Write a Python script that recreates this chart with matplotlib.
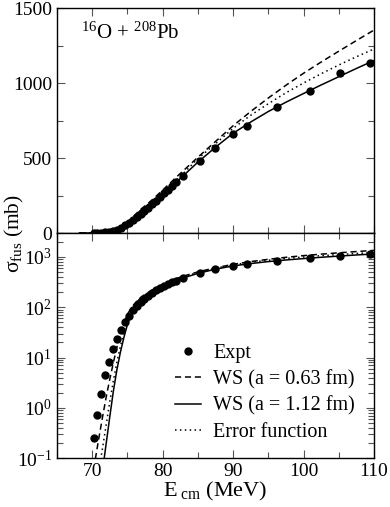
import numpy as np
import matplotlib
matplotlib.use("Agg")
import matplotlib.pyplot as plt
from matplotlib.ticker import MultipleLocator, LogLocator, NullFormatter

plt.rcParams['font.family'] = ['Liberation Serif', 'DejaVu Serif']
plt.rcParams['mathtext.fontset'] = 'custom'
plt.rcParams['mathtext.rm'] = 'Liberation Serif'
plt.rcParams['mathtext.it'] = 'Liberation Serif:italic'
plt.rcParams['mathtext.bf'] = 'Liberation Serif:bold'

# --- experimental fusion cross sections (mb) ---
e_expt = [70.19, 70.75, 71.27, 71.84, 72.40, 72.97, 73.54, 74.10, 74.62, 75.19,
          75.75, 76.30, 76.86, 77.42, 77.98, 78.54, 79.10, 79.66, 80.22, 80.78,
          81.34, 81.90, 82.92, 85.28, 87.45, 89.95, 91.93, 96.27, 100.85, 105.2,
          109.5]
sig_expt = [0.25, 0.71, 1.86, 4.4, 8.3, 14.7, 23.3, 35.6, 50.6, 67.6,
            87.6, 105, 125, 147, 170, 193, 216, 240, 264, 288,
            313, 338, 382, 482, 567, 660, 713, 842, 949, 1064,
            1136]

# --- calculations ---
e_th = [68.2, 69, 70, 70.5, 71, 71.5, 72, 72.5, 73, 73.5, 74, 74.5, 75, 75.5,
        76, 76.5, 77, 78, 79, 80, 81, 82, 83, 85, 87.5, 90, 92.5, 95, 97.5,
        100, 102.5, 105, 107.5, 110]
sig_ws063 = [0.001, 0.0063, 0.04, 0.105, 0.275, 0.69, 1.66, 3.7, 7.8, 15.8,
             29.5, 49, 72, 95, 117, 141, 162, 200, 242, 286, 330, 375, 418,
             505, 610, 715, 810, 900, 985, 1065, 1140, 1212, 1283, 1353]
sig_ws112 = [1e-6, 1e-4, 0.0013, 0.005, 0.018, 0.06, 0.2, 0.66, 2.1, 5.6,
             12.6, 25, 45, 71, 105, 135, 155, 190, 228, 265, 302, 343, 385,
             472, 572, 665, 740, 810, 872, 930, 987, 1042, 1097, 1150]
sig_erf = [1e-5, 0.0005, 0.0063, 0.022, 0.063, 0.166, 0.47, 1.32, 3.4, 7.9,
           16.6, 31.6, 54, 79, 107, 135, 155, 193, 232, 272, 313, 355, 400,
           495, 595, 698, 785, 862, 935, 1000, 1062, 1120, 1175, 1227]

fig = plt.figure(figsize=(3.9, 5.07), dpi=100)
ax1 = fig.add_axes([0.146, 0.5404, 0.813, 0.4438])
ax2 = fig.add_axes([0.146, 0.0966, 0.813, 0.4438])

lw = 1.1
for ax in (ax1, ax2):
    ax.plot(e_expt, sig_expt, 'o', color='black', ms=5, label='Expt', zorder=3)
    ax.plot(e_th, sig_ws063, color='black', lw=lw, ls=(0, (4, 2.5)),
            label='WS (a = 0.63 fm)')
    ax.plot(e_th, sig_ws112, color='black', lw=lw, ls='-',
            label='WS (a = 1.12 fm)')
    ax.plot(e_th, sig_erf, color='black', lw=lw, ls=(0, (1, 2.2)),
            label='Error function')
    ax.set_xlim(65, 110)
    ax.xaxis.set_major_locator(MultipleLocator(10))
    ax.xaxis.set_minor_locator(MultipleLocator(5))
    ax.tick_params(which='both', direction='in', top=True, right=True,
                   labelsize=14, width=0.8, color='#555555')
    ax.tick_params(which='major', length=6)
    ax.tick_params(which='minor', length=4)
    for s in ax.spines.values():
        s.set_linewidth(1.0)

# top panel: linear
ax1.set_ylim(0, 1500)
ax1.yaxis.set_major_locator(MultipleLocator(500))
ax1.yaxis.set_minor_locator(MultipleLocator(250))
ax1.tick_params(labelbottom=False)
ax1.text(0.075, 0.935, r'$^{16}$O + $^{208}$Pb', transform=ax1.transAxes,
         fontsize=15, va='top', ha='left')

# bottom panel: log
ax2.set_yscale('log')
ax2.set_ylim(0.1, 3000)
ax2.yaxis.set_major_locator(LogLocator(base=10, numticks=10))
ax2.yaxis.set_minor_locator(LogLocator(base=10, subs=np.arange(2, 10), numticks=20))
ax2.yaxis.set_minor_formatter(NullFormatter())
ax2.set_xlabel(r'E$_{\ \rm cm}$ (MeV)', fontsize=16, labelpad=0)

ax2.legend(loc='lower left', bbox_to_anchor=(0.372, 0.07), frameon=False,
           fontsize=14.5, handlelength=1.3, handletextpad=0.6, labelspacing=0.36,
           borderpad=0, borderaxespad=0)

fig.text(0.037, 0.54, r'σ$_{\rm fus}$ (mb)', rotation=90, fontsize=15.5,
         ha='center', va='center')

fig.savefig('out.png', dpi=100)
